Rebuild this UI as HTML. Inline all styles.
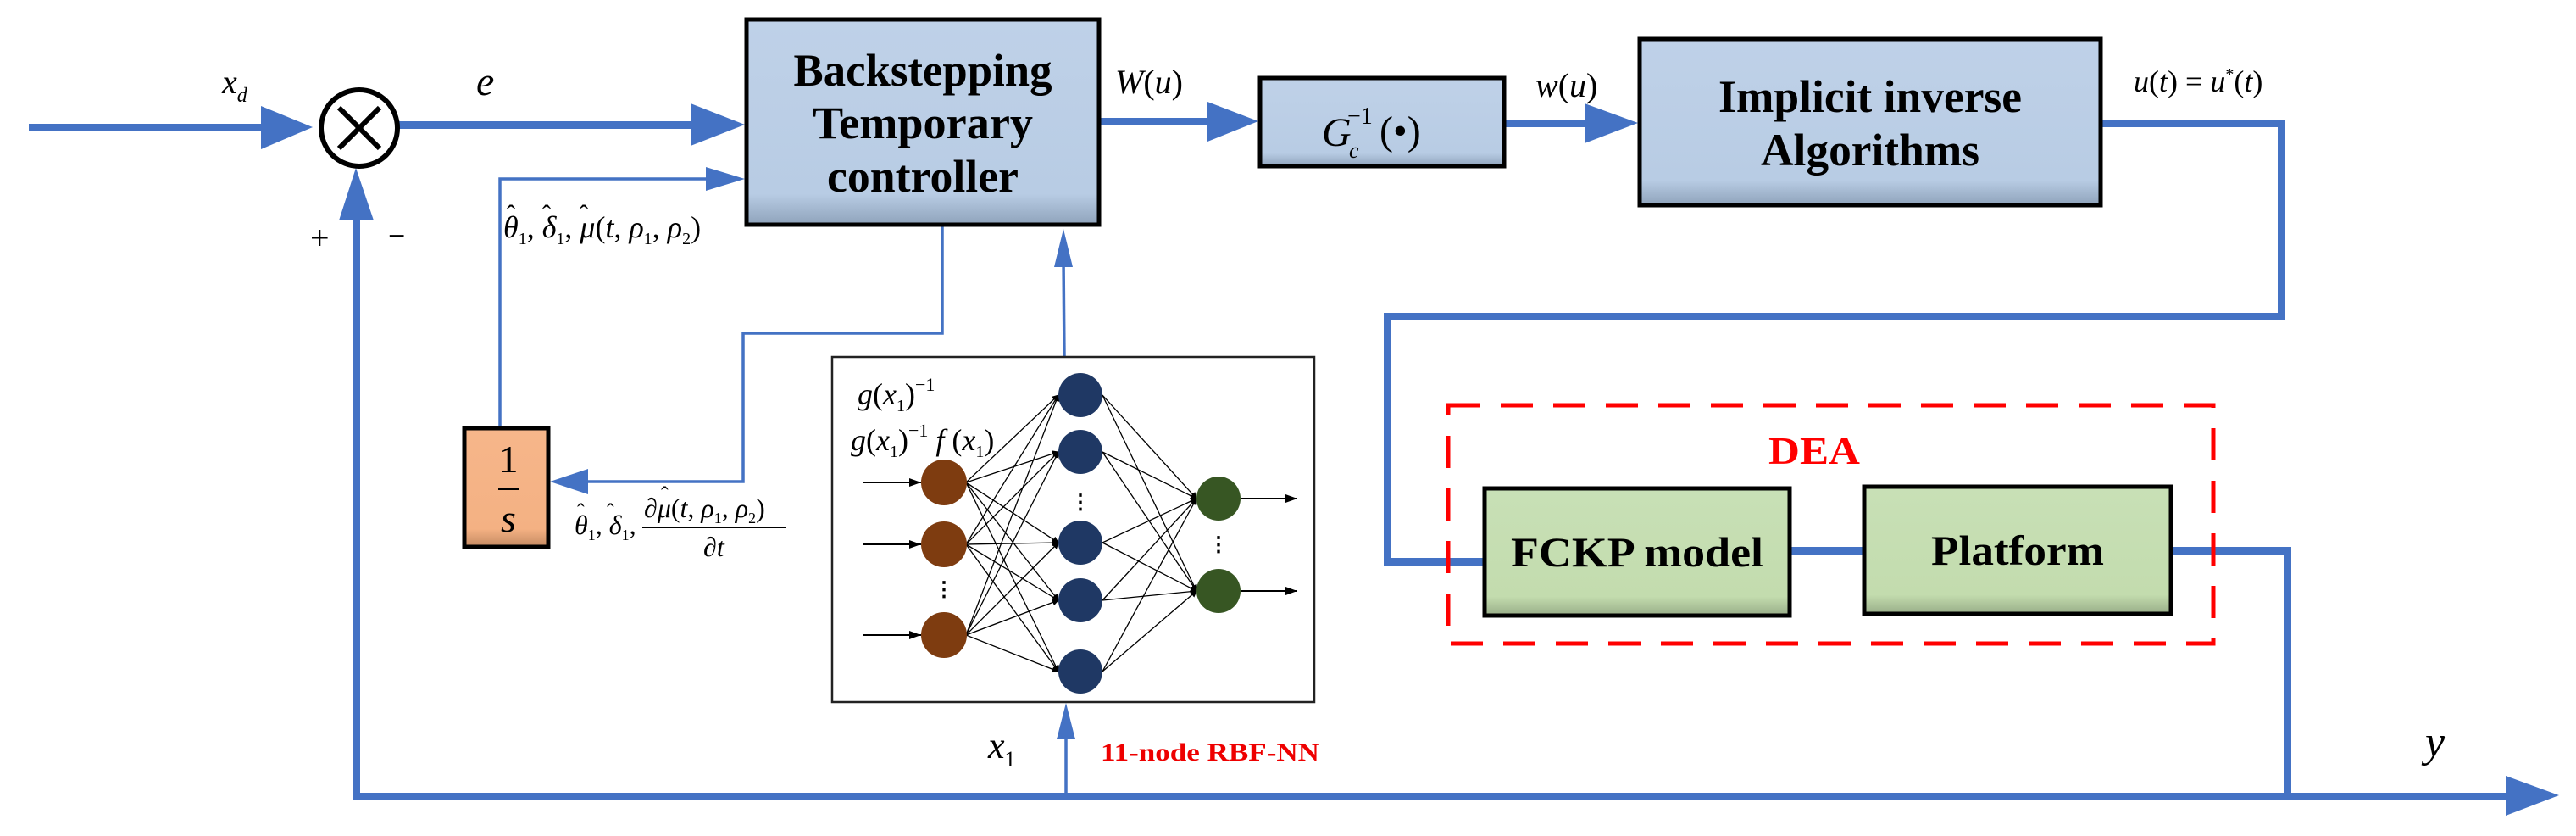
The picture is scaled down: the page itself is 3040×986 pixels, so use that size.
<!DOCTYPE html>
<html><head><meta charset="utf-8"><style>
html,body{margin:0;padding:0;background:#fff;}
svg{display:block;}
.bt{font-family:"Liberation Serif",serif;font-weight:bold;fill:#000;}
.m{font-family:"Liberation Serif",serif;font-style:italic;fill:#000;}
.r{font-family:"Liberation Serif",serif;fill:#000;}
</style></head><body>
<svg width="3040" height="986" viewBox="0 0 3040 986" xmlns="http://www.w3.org/2000/svg">
<defs>
<linearGradient id="bl" x1="0" y1="0" x2="0" y2="1"><stop offset="0" stop-color="#bfd1e8"/><stop offset="0.85" stop-color="#b8cce4"/><stop offset="1" stop-color="#8fa3bb"/></linearGradient>
<linearGradient id="gr" x1="0" y1="0" x2="0" y2="1"><stop offset="0" stop-color="#c8e0b6"/><stop offset="0.85" stop-color="#c3dcae"/><stop offset="1" stop-color="#98ad88"/></linearGradient>
<linearGradient id="or" x1="0" y1="0" x2="0" y2="1"><stop offset="0" stop-color="#f6b68a"/><stop offset="0.85" stop-color="#f4b183"/><stop offset="1" stop-color="#c48a62"/></linearGradient>
<marker id="sa" markerWidth="8" markerHeight="8" refX="7" refY="4" orient="auto" markerUnits="userSpaceOnUse"><path d="M0,0 L8,4 L0,8 z" fill="#000"/></marker>
<marker id="ba" markerWidth="14" markerHeight="10" refX="14" refY="5" orient="auto" markerUnits="userSpaceOnUse"><path d="M0,0 L14,5 L0,10 z" fill="#000"/></marker>
</defs>
<g fill="#4472c4" stroke="none">
<rect x="34" y="146" width="300" height="9"/>
<polygon points="308,125 369,150 308,176"/>
<rect x="470" y="143" width="350" height="9"/>
<polygon points="815,122 879,147 815,172"/>
<rect x="1299" y="139" width="140" height="9"/>
<polygon points="1425,120 1485,143 1425,167"/>
<rect x="1777" y="141" width="110" height="9"/>
<polygon points="1870,122 1933,145 1870,169"/>
<rect x="2481" y="141" width="216" height="9"/>
<rect x="2688" y="141" width="9" height="237"/>
<rect x="1633" y="369" width="1064" height="9"/>
<rect x="1633" y="369" width="9" height="297"/>
<rect x="1633" y="658" width="117" height="9"/>
<rect x="2114" y="645" width="84" height="9"/>
<rect x="2564" y="645" width="140" height="9"/>
<rect x="2695" y="645" width="9" height="296"/>
<rect x="416" y="935" width="2550" height="9"/>
<polygon points="2957,915 3020,938 2957,962"/>
<rect x="416" y="255" width="9" height="688"/>
<polygon points="400,260 420,198 441,260"/>
</g>
<g stroke="#4472c4" stroke-width="3.5" fill="none">
<polyline points="590,503 590,211 840,211"/>
<polyline points="1112,267 1112,393 877,393 877,568 690,568"/>
<line x1="1256" y1="420" x2="1255" y2="305"/>
<line x1="1258" y1="938" x2="1258" y2="870"/>
</g>
<g fill="#4472c4">
<polygon points="833,197 879,211 833,225"/>
<polygon points="649,568 694,553 694,583"/>
<polygon points="1255,270 1244,315 1266,315"/>
<polygon points="1258,829 1247,872 1269,872"/>
</g>
<circle cx="424" cy="151" r="45" fill="#fff" stroke="#000" stroke-width="6"/>
<line x1="400" y1="127" x2="448" y2="175" stroke="#000" stroke-width="6"/>
<line x1="448" y1="127" x2="400" y2="175" stroke="#000" stroke-width="6"/>
<rect x="881" y="23" width="416" height="242" fill="url(#bl)" stroke="#000" stroke-width="5"/>
<text class="bt" font-size="54" x="1089" y="101" text-anchor="middle" textLength="305" lengthAdjust="spacingAndGlyphs">Backstepping</text>
<text class="bt" font-size="54" x="1089" y="163" text-anchor="middle" textLength="260" lengthAdjust="spacingAndGlyphs">Temporary</text>
<text class="bt" font-size="54" x="1089" y="226" text-anchor="middle" textLength="226" lengthAdjust="spacingAndGlyphs">controller</text>
<rect x="1487" y="92" width="288" height="104" fill="url(#bl)" stroke="#000" stroke-width="5"/>
<text class="m" font-size="48" x="1560" y="172">G</text>
<text class="m" font-size="26" x="1592" y="186">c</text>
<text class="r" font-size="28" x="1590" y="146">−1</text>
<text class="r" font-size="48" x="1628" y="170">(•)</text>
<rect x="1935" y="46" width="544" height="196" fill="url(#bl)" stroke="#000" stroke-width="5"/>
<text class="bt" font-size="54" x="2207" y="132" text-anchor="middle" textLength="358" lengthAdjust="spacingAndGlyphs">Implicit inverse</text>
<text class="bt" font-size="54" x="2207" y="195" text-anchor="middle" textLength="258" lengthAdjust="spacingAndGlyphs">Algorithms</text>
<rect x="548" y="505" width="99" height="140" fill="url(#or)" stroke="#000" stroke-width="5"/>
<text class="r" font-size="46" x="600" y="557" text-anchor="middle">1</text>
<line x1="588" y1="577" x2="612" y2="577" stroke="#000" stroke-width="2"/>
<text class="m" font-size="46" x="600" y="627" text-anchor="middle">s</text>
<rect x="1709" y="478" width="903" height="281" fill="none" stroke="#f00" stroke-width="5" stroke-dasharray="38,24"/>
<text class="bt" font-size="46" x="2141" y="547" text-anchor="middle" style="fill:#f00" textLength="108" lengthAdjust="spacingAndGlyphs">DEA</text>
<rect x="1752" y="576" width="360" height="150" fill="url(#gr)" stroke="#000" stroke-width="5"/>
<text class="bt" font-size="50" x="1932" y="668" text-anchor="middle" textLength="298" lengthAdjust="spacingAndGlyphs">FCKP model</text>
<rect x="2200" y="574" width="362" height="150" fill="url(#gr)" stroke="#000" stroke-width="5"/>
<text class="bt" font-size="50" x="2381" y="666" text-anchor="middle" textLength="204" lengthAdjust="spacingAndGlyphs">Platform</text>
<rect x="982" y="421" width="569" height="407" fill="#fff" stroke="#222" stroke-width="2.5"/>
<g stroke="#000" stroke-width="1.3" marker-end="url(#sa)">
<line x1="1140" y1="569" x2="1249" y2="466"/><line x1="1140" y1="569" x2="1249" y2="533"/><line x1="1140" y1="569" x2="1249" y2="640"/><line x1="1140" y1="569" x2="1249" y2="708"/><line x1="1140" y1="569" x2="1249" y2="792"/>
<line x1="1140" y1="642" x2="1249" y2="466"/><line x1="1140" y1="642" x2="1249" y2="533"/><line x1="1140" y1="642" x2="1249" y2="640"/><line x1="1140" y1="642" x2="1249" y2="708"/><line x1="1140" y1="642" x2="1249" y2="792"/>
<line x1="1140" y1="749" x2="1249" y2="466"/><line x1="1140" y1="749" x2="1249" y2="533"/><line x1="1140" y1="749" x2="1249" y2="640"/><line x1="1140" y1="749" x2="1249" y2="708"/><line x1="1140" y1="749" x2="1249" y2="792"/>
<line x1="1301" y1="466" x2="1412" y2="588"/><line x1="1301" y1="466" x2="1412" y2="697"/>
<line x1="1301" y1="533" x2="1412" y2="588"/><line x1="1301" y1="533" x2="1412" y2="697"/>
<line x1="1301" y1="640" x2="1412" y2="588"/><line x1="1301" y1="640" x2="1412" y2="697"/>
<line x1="1301" y1="708" x2="1412" y2="588"/><line x1="1301" y1="708" x2="1412" y2="697"/>
<line x1="1301" y1="792" x2="1412" y2="588"/><line x1="1301" y1="792" x2="1412" y2="697"/>
</g>
<g stroke="#000" stroke-width="2" marker-end="url(#ba)">
<line x1="1019" y1="569" x2="1087" y2="569"/><line x1="1019" y1="642" x2="1087" y2="642"/><line x1="1019" y1="749" x2="1087" y2="749"/>
<line x1="1464" y1="588" x2="1531" y2="588"/><line x1="1464" y1="697" x2="1531" y2="697"/>
</g>
<g fill="#7e3c10"><circle cx="1114" cy="569" r="27"/><circle cx="1114" cy="642" r="27"/><circle cx="1114" cy="749" r="27"/></g>
<g fill="#1f3864"><circle cx="1275" cy="466" r="26"/><circle cx="1275" cy="533" r="26"/><circle cx="1275" cy="640" r="26"/><circle cx="1275" cy="708" r="26"/><circle cx="1275" cy="792" r="26"/></g>
<g fill="#375623"><circle cx="1438" cy="588" r="26"/><circle cx="1438" cy="697" r="26"/></g>
<g font-family="Liberation Serif" font-size="24" font-weight="bold" text-anchor="middle">
<text x="1114" y="703">⋮</text><text x="1275" y="600">⋮</text><text x="1438" y="650">⋮</text></g>
<text class="r" font-size="36" x="1012" y="477"><tspan font-style="italic">g</tspan>(<tspan font-style="italic">x</tspan><tspan font-size="20" dy="8">1</tspan><tspan dy="-8">)</tspan><tspan font-size="22" dy="-16">−1</tspan></text>
<text class="r" font-size="36" x="1004" y="531"><tspan font-style="italic">g</tspan>(<tspan font-style="italic">x</tspan><tspan font-size="20" dy="8">1</tspan><tspan dy="-8">)</tspan><tspan font-size="22" dy="-16">−1</tspan><tspan dy="16" font-style="italic"> f</tspan> (<tspan font-style="italic">x</tspan><tspan font-size="20" dy="8">1</tspan><tspan dy="-8">)</tspan></text>
<text class="m" font-size="40" x="262" y="110">x<tspan font-size="24" dy="10">d</tspan></text>
<text class="m" font-size="48" x="562" y="112">e</text>
<text class="r" font-size="40" x="366" y="294">+</text>
<text class="r" font-size="36" x="458" y="290">−</text>
<text class="m" font-size="40" x="1316" y="110">W<tspan font-style="normal">(</tspan>u<tspan font-style="normal">)</tspan></text>
<text class="m" font-size="40" x="1812" y="114">w<tspan font-style="normal">(</tspan>u<tspan font-style="normal">)</tspan></text>
<text class="m" font-size="36" x="2518" y="108">u<tspan font-style="normal">(</tspan>t<tspan font-style="normal">) = </tspan>u<tspan font-size="20" dy="-14" font-style="normal">*</tspan><tspan dy="14" font-style="normal">(</tspan>t<tspan font-style="normal">)</tspan></text>
<text class="m" font-size="36" x="594" y="280">θ<tspan font-size="20" dy="8" font-style="normal">1</tspan><tspan dy="-8" font-style="normal">, </tspan>δ<tspan font-size="20" dy="8" font-style="normal">1</tspan><tspan dy="-8" font-style="normal">, </tspan>μ<tspan font-style="normal">(</tspan>t<tspan font-style="normal">, </tspan>ρ<tspan font-size="20" dy="8" font-style="normal">1</tspan><tspan dy="-8" font-style="normal">, </tspan>ρ<tspan font-size="20" dy="8" font-style="normal">2</tspan><tspan dy="-8" font-style="normal">)</tspan></text>
<g class="r" font-size="30"><text x="598" y="262">ˆ</text><text x="640" y="262">ˆ</text><text x="684" y="262">ˆ</text></g>
<text class="m" font-size="32" x="678" y="630">θ<tspan font-size="18" dy="7" font-style="normal">1</tspan><tspan dy="-7" font-style="normal">, </tspan>δ<tspan font-size="18" dy="7" font-style="normal">1</tspan><tspan dy="-7" font-style="normal">,</tspan></text>
<g class="r" font-size="26"><text x="681" y="612">ˆ</text><text x="716" y="612">ˆ</text><text x="780" y="592">ˆ</text></g>
<text class="m" font-size="32" x="760" y="610">∂μ<tspan font-style="normal">(</tspan>t<tspan font-style="normal">, </tspan>ρ<tspan font-size="18" dy="7" font-style="normal">1</tspan><tspan dy="-7" font-style="normal">, </tspan>ρ<tspan font-size="18" dy="7" font-style="normal">2</tspan><tspan dy="-7" font-style="normal">)</tspan></text>
<line x1="758" y1="622" x2="928" y2="622" stroke="#000" stroke-width="2"/>
<text class="m" font-size="32" x="830" y="656">∂t</text>
<text class="m" font-size="44" x="1166" y="894">x<tspan font-size="26" dy="10" font-style="normal">1</tspan></text>
<text class="bt" font-size="30" x="1299" y="897" style="fill:#e00" textLength="258" lengthAdjust="spacingAndGlyphs">11-node RBF-NN</text>
<text class="m" font-size="52" x="2862" y="892">y</text>
</svg>
</body></html>
